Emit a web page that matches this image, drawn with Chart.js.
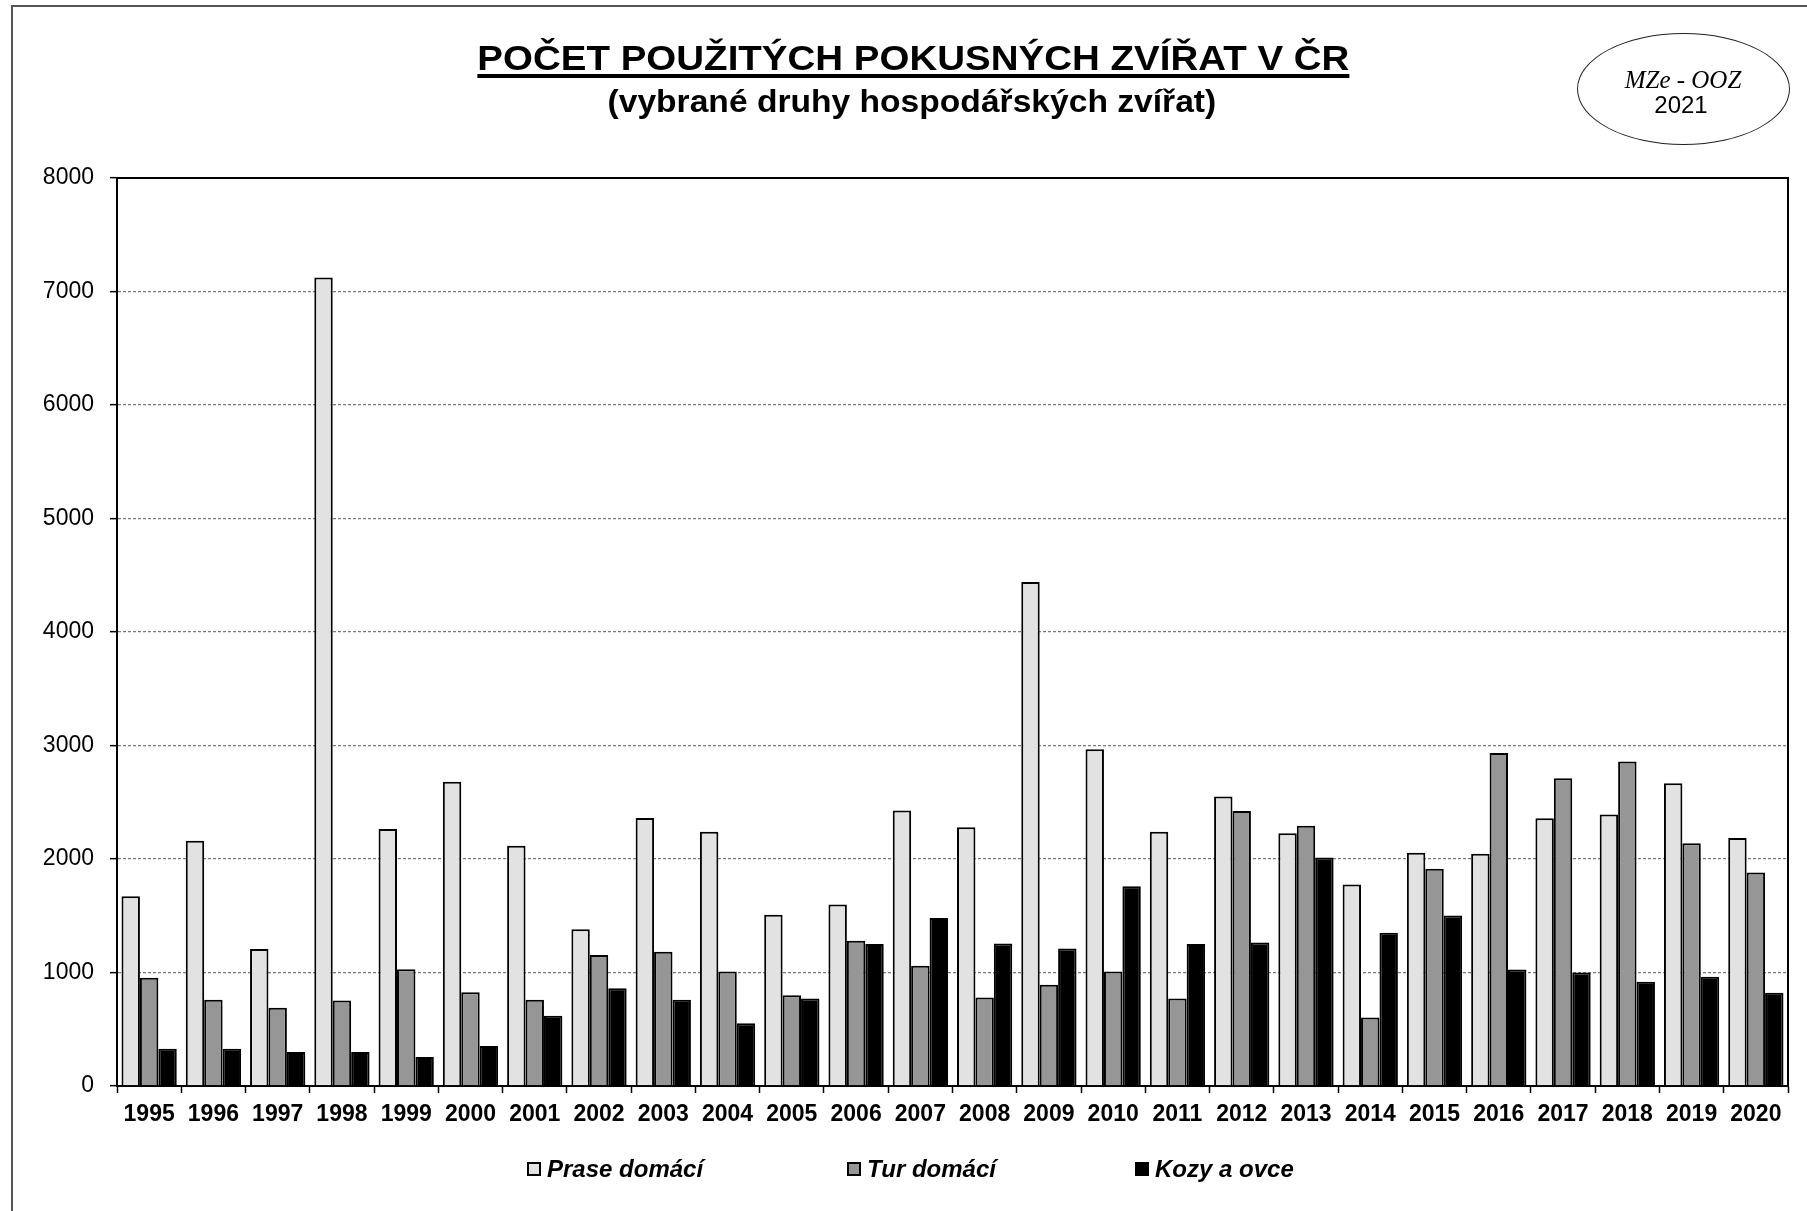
<!DOCTYPE html>
<html>
<head>
<meta charset="utf-8">
<script src="https://cdn.jsdelivr.net/npm/chart.js@4.4.1/dist/chart.umd.min.js"></script>
<style>
  html, body { margin: 0; padding: 0; background: #fff; }
  #wrap { position: relative; width: 1807px; height: 1211px; overflow: hidden; font-family: "Liberation Sans", Arial, sans-serif; color: #000; }
  #chartbox { position: absolute; left: 0; top: 0; width: 1807px; height: 1211px; }
  .frame-top { position: absolute; left: 11px; top: 5px; width: 1800px; border-top: 2px solid #555; }
  .frame-left { position: absolute; left: 11px; top: 5px; height: 1210px; border-left: 2px solid #555; }
  #title { position: absolute; left: 0; width: 1827px; top: 40px; text-align: center; font-weight: bold; font-size: 35px; line-height: 35px; white-space: nowrap; }
  #title span { display: inline-block; transform: scaleX(1.1); transform-origin: center; text-decoration: underline; text-decoration-thickness: 4px; text-underline-offset: 4px; }
  #subtitle { position: absolute; left: 0; width: 1824px; top: 85px; text-align: center; font-weight: bold; font-size: 32px; line-height: 32px; white-space: nowrap; }
  #subtitle span { display: inline-block; transform: scaleX(1.05); transform-origin: center; }
  #stamp { position: absolute; left: 1577px; top: 33px; width: 213px; height: 112px; box-sizing: border-box; border: 1.5px solid #222; border-radius: 50%; }
  #stamp1 { position: absolute; left: 1583px; width: 200px; top: 67px; text-align: center; font-family: "Liberation Serif", "Times New Roman", serif; font-style: italic; font-size: 25px; line-height: 25px; }
  #stamp2 { position: absolute; left: 1581px; width: 200px; top: 93px; text-align: center; font-size: 24px; line-height: 24px; }
  #legend { position: absolute; left: 0; top: 1154px; height: 30px; width: 1807px; }
  .lg-item { position: absolute; top: 0; height: 30px; display: flex; align-items: center; white-space: nowrap; }
  .lg-box { width: 14px; height: 14px; box-sizing: border-box; border: 2px solid #000; margin-right: 6px; }
  .lg-text { font-weight: bold; font-style: italic; font-size: 24px; }
</style>
</head>
<body>
<div id="wrap">
  <div id="chartbox"><canvas id="c"></canvas></div>
  <div class="frame-top"></div>
  <div class="frame-left"></div>
  <div id="title"><span id="titleText"></span></div>
  <div id="subtitle"><span id="subtitleText"></span></div>
  <div id="stamp"></div>
  <div id="stamp1"></div>
  <div id="stamp2"></div>
  <div id="legend"></div>
</div>
<script>
// ---- Data ----
const TITLE = "POČET POUŽITÝCH POKUSNÝCH ZVÍŘAT V ČR";
const SUBTITLE = "(vybrané druhy hospodářských zvířat)";
const STAMP_LINE1 = "MZe - OOZ";
const STAMP_LINE2 = "2021";

const years = ["1995","1996","1997","1998","1999","2000","2001","2002","2003","2004","2005","2006","2007","2008","2009","2010","2011","2012","2013","2014","2015","2016","2017","2018","2019","2020"];

const seriesNames = ["Prase domácí", "Tur domácí", "Kozy a ovce"];

const praseDomaci = [1672, 2161, 1208, 7124, 2264, 2680, 2117, 1381, 2361, 2240, 1508, 1600, 2428, 2280, 4440, 2968, 2240, 2550, 2227, 1775, 2056, 2046, 2359, 2393, 2668, 2185];
const turDomaci   = [953, 760, 689, 754, 1029, 827, 760, 1155, 1182, 1008, 800, 1280, 1060, 780, 892, 1008, 772, 2423, 2292, 603, 1913, 2933, 2712, 2858, 2138, 1882];
const kozyAOvce   = [328, 328, 299, 299, 255, 352, 619, 862, 760, 552, 772, 1252, 1480, 1256, 1212, 1760, 1252, 1265, 2013, 1351, 1503, 1026, 1001, 919, 963, 821];

const yMin = 0, yMax = 8000, yStep = 1000;

// ---- Styles ----
const seriesColors = ["#e2e2e2", "#969696", "#000000"];
const legendLeft = [527, 847, 1135];

document.getElementById('titleText').textContent = TITLE;
document.getElementById('subtitleText').textContent = SUBTITLE;
document.getElementById('stamp1').textContent = STAMP_LINE1;
document.getElementById('stamp2').textContent = STAMP_LINE2;

Chart.defaults.font.family = '"Liberation Sans", Arial, sans-serif';
Chart.defaults.color = '#000';

const frameBorder = {
  id: 'frameBorder',
  afterDraw(chart) {
    const {ctx, chartArea: a} = chart;
    ctx.save();
    ctx.strokeStyle = '#000';
    ctx.lineWidth = 2;
    ctx.beginPath();
    ctx.moveTo(a.left, a.top);
    ctx.lineTo(a.right, a.top);
    ctx.lineTo(a.right, a.bottom);
    ctx.stroke();
    ctx.restore();
  }
};

const values = [praseDomaci, turDomaci, kozyAOvce];
const chart = new Chart(document.getElementById('c'), {
  type: 'bar',
  data: {
    labels: years,
    datasets: seriesNames.map((name, i) => ({
      label: name,
      data: values[i],
      backgroundColor: seriesColors[i],
      borderColor: '#000',
      borderWidth: 2,
      categoryPercentage: 0.86,
      barPercentage: 1.0
    }))
  },
  options: {
    responsive: true,
    maintainAspectRatio: false,
    animation: false,
    layout: { padding: { left: 20, top: 178, right: 19, bottom: 85 } },
    plugins: {
      legend: { display: false },
      title: { display: false },
      tooltip: { enabled: false }
    },
    scales: {
      x: {
        grid: { display: true, drawOnChartArea: false, drawTicks: true, tickLength: 7, color: '#000', tickColor: '#000', tickWidth: 1.5, offset: true },
        border: { display: true, color: '#000', width: 2 },
        ticks: { padding: 8, font: { size: 23, weight: 'bold' }, color: '#000', maxRotation: 0, autoSkip: false },
        afterFit(axis) { axis.height = 40; }
      },
      y: {
        min: yMin, max: yMax,
        grid: {
          color: (ctx) => (ctx.tick && (ctx.tick.value === yMin || ctx.tick.value === yMax)) ? 'rgba(0,0,0,0)' : '#7a7a7a',
          lineWidth: 1.3,
          tickColor: '#000', tickLength: 7, tickWidth: 1.5
        },
        border: { display: true, color: '#000', width: 2, dash: [3, 2] },
        ticks: { stepSize: yStep, padding: 16, font: { size: 23 }, color: '#000', callback: (v) => String(v) },
        afterFit(axis) { axis.width = 97; }
      }
    }
  },
  plugins: [frameBorder]
});

// HTML legend generated from chart datasets
const lg = document.getElementById('legend');
chart.data.datasets.forEach((ds, i) => {
  const item = document.createElement('div');
  item.className = 'lg-item';
  item.style.left = legendLeft[i] + 'px';
  const box = document.createElement('div');
  box.className = 'lg-box';
  box.style.background = ds.backgroundColor;
  const txt = document.createElement('span');
  txt.className = 'lg-text';
  txt.textContent = ds.label;
  item.appendChild(box);
  item.appendChild(txt);
  lg.appendChild(item);
});
</script>
</body>
</html>
